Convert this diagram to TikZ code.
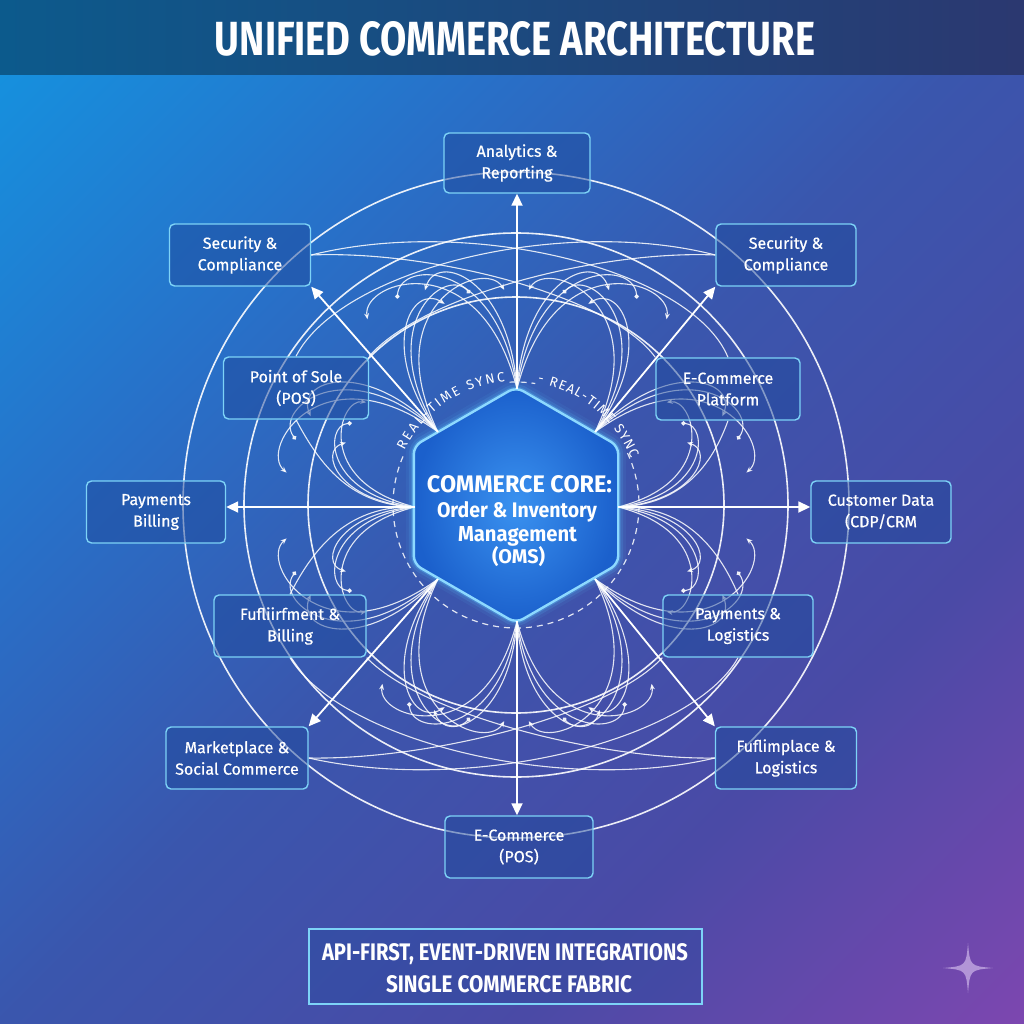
\documentclass[tikz,border=0pt]{standalone}
\usepackage{fontspec}
\setmainfont{Fira Sans}
\newfontfamily\boxfont{Fira Sans}[FakeBold=0.6]
\usepackage{graphicx}
\usetikzlibrary{arrows.meta,calc,decorations.text,shapes.geometric}
\pgfdeclarelayer{back}
\pgfdeclarelayer{lines}
\pgfsetlayers{back,lines,main}
\definecolor{bgTL}{HTML}{1592DF}
\definecolor{bgA}{HTML}{2870C8}
\definecolor{bgMid}{HTML}{3A56AD}
\definecolor{bgB}{HTML}{4A4AA6}
\definecolor{bgBR}{HTML}{7E47B0}
\definecolor{titleL}{HTML}{0C5A8C}
\definecolor{titleR}{HTML}{2B3870}
\definecolor{edge}{HTML}{7DD3F7}
\definecolor{boxfill}{HTML}{1F4A9C}
\definecolor{hexin}{HTML}{3A92F0}
\definecolor{hexout}{HTML}{1B60CC}
\definecolor{glow}{HTML}{5CC8FF}
\definecolor{starcol}{HTML}{C8B0E6}
\pgfdeclarehorizontalshading{bgshade}{100bp}{color(0bp)=(bgTL); color(16bp)=(bgTL); color(34bp)=(bgA); color(50bp)=(bgMid); color(68bp)=(bgB); color(86bp)=(bgBR); color(100bp)=(bgBR)}
\newcommand\syncfont{\fontsize{13.5}{14}\selectfont\color{white}}
\tikzset{
 box/.style={draw=edge, line width=1.4pt, rounded corners=5pt, fill=boxfill, fill opacity=0.5, text opacity=1, text=white, align=center, font=\boxfont\fontsize{16}{21.5}\selectfont, inner sep=0pt, minimum height=62pt},
 ring/.style={draw=white, line width=1.6pt, opacity=0.9},
 dashedring/.style={draw=white, line width=1.2pt, opacity=0.85, dash pattern=on 6pt off 5pt},
 fl/.style={draw=white, line width=1.1pt, opacity=0.85},
 spoke/.style={draw=white, line width=1.8pt, -{Triangle[length=12pt,width=11pt]}},
 tipA/.style={-{Stealth[length=6pt,width=5pt]}},
 tipD/.style={-{Circle[length=4.5pt]}},
 hexshape/.style={regular polygon, regular polygon sides=6, shape border rotate=90, minimum size=236pt, inner sep=0pt, rounded corners=8pt},
 label/.style={text=white, inner sep=0pt, anchor=base},
}
\newcommand\fanlines[3]{%
 \foreach \s in {-1,1}{%
  \pgfmathsetmacro\ra{110*#3}\pgfmathsetmacro\rb{160*#3}\pgfmathsetmacro\rc{135*#3}%
  \pgfmathsetmacro\rd{130*#3}\pgfmathsetmacro\re{175*#3}\pgfmathsetmacro\rf{150*#3}%
  \pgfmathsetmacro\rg{150*#3}\pgfmathsetmacro\rh{190*#3}\pgfmathsetmacro\ri{165*#3}%
  \draw[fl,tipA] (#1) .. controls ($(#1)+(#2+\s*4:\ra)$) and ($(#1)+(#2+\s*30:\rb)$) .. ($(#1)+(#2+\s*43:\rc)$);
  \draw[fl,tipD] (#1) .. controls ($(#1)+(#2+\s*8:\rd)$) and ($(#1)+(#2+\s*42:\re)$) .. ($(#1)+(#2+\s*53:\rf)$);
  \draw[fl,tipA] (#1) .. controls ($(#1)+(#2+\s*14:\rg)$) and ($(#1)+(#2+\s*55:\rh)$) .. ($(#1)+(#2+\s*65:\ri)$);
 }}
\begin{document}
\begin{tikzpicture}[x=1pt,y=-1pt]
\useasboundingbox (0,0) rectangle (1024,1024);
\begin{pgfonlayer}{back}
 \shade[shading=bgshade, shading angle=-45] (0,0) rectangle (1024,1024);
 \shade[left color=titleL, right color=titleR] (0,0) rectangle (1024,75);
\end{pgfonlayer}
% title
\node[label] (title) at (515,56) {\resizebox{600pt}{34pt}{\bfseries UNIFIED COMMERCE ARCHITECTURE}};
% core hexagon
\coordinate (c) at (516,505);
\node[hexshape, draw=glow, line width=16pt, draw opacity=0.07] (g1) at (c) {};
\node[hexshape, draw=glow, line width=10pt, draw opacity=0.14] (g2) at (c) {};
\node[hexshape, draw=glow, line width=5pt, draw opacity=0.3] (g3) at (c) {};
\node[hexshape, draw=glow!70!white, line width=2.4pt, inner color=hexin, outer color=hexout] (core) at (c) {};
\node[label] (h1) at (519.5,492) {\resizebox{185pt}{17pt}{\bfseries COMMERCE CORE:}};
\node[label] (h2) at (517,517) {\resizebox{160pt}{16pt}{\bfseries Order \& Inventory}};
\node[label] (h3) at (517.5,541) {\resizebox{119pt}{15pt}{\bfseries Management}};
\node[label] (h4) at (518.5,563) {\resizebox{53pt}{!}{\bfseries (OMS)}};
% boxes
\node[box, minimum width=146pt, minimum height=60pt] (analytics) at (517,163) {Analytics \&\\Reporting};
\node[box, minimum width=141pt] (secL) at (240,255) {Security \&\\Compliance};
\node[box, minimum width=140pt] (secR) at (786,255) {Security \&\\Compliance};
\node[box, minimum width=145pt] (pos) at (296,388) {Point of Sole\\(POS)};
\node[box, minimum width=144pt] (ecp) at (728,389) {E-Commerce\\Platform};
\node[box, minimum width=139pt] (paybill) at (156,512) {Payments\\Billing};
\node[box, minimum width=140pt] (cdp) at (881,512) {Customer Data\\(CDP/CRM};
\node[box, minimum width=152pt] (fulfil) at (290,626) {Fufliirfment \&\\Billing};
\node[box, minimum width=150pt] (pl) at (738,626) {Payments \&\\Logistics};
\node[box, minimum width=142pt] (market) at (237,758) {Marketplace \&\\Social Commerce};
\node[box, minimum width=141pt] (fuflimp) at (786,758) {Fuflimplace \&\\Logistics};
\node[box, minimum width=148pt] (ecpos) at (519,847) {E-Commerce\\(POS)};
% banner
\node[draw=edge, line width=1.5pt, fill=boxfill, fill opacity=0.3, minimum width=393pt, minimum height=75pt, inner sep=0pt] (banner) at (505.5,966.5) {};
\node[label] (ban1) at (505,960) {\resizebox{366pt}{17pt}{\bfseries API-FIRST, EVENT-DRIVEN INTEGRATIONS}};
\node[label] (ban2) at (509,992) {\resizebox{246pt}{17pt}{\bfseries SINGLE COMMERCE FABRIC}};
% fan points
\coordinate (fT) at (517,389);
\coordinate (fB) at (517,621);
\coordinate (fL) at (415,507);
\coordinate (fR) at (618,507);
\coordinate (fUL) at (438,432);
\coordinate (fUR) at (595,432);
\coordinate (fLL) at (438,579);
\coordinate (fLR) at (595,579);
\begin{pgfonlayer}{lines}
 \draw[ring] (c) circle[radius=333];
 \draw[ring] (c) circle[radius=272];
 \draw[ring] (c) circle[radius=208];
 % crossing arcs
 \draw[fl] (secL.east) .. controls (430,250) and (610,295) .. (ecp.north west);
 \draw[fl] (secR.west) .. controls (602,250) and (422,295) .. (pos.north east);
 \draw[fl] (pos.north) .. controls (340,270) and (560,215) .. (secR.west);
 \draw[fl] (ecp.north) .. controls (692,270) and (472,215) .. (secL.east);
 \draw[fl] (market.east) .. controls (430,760) and (610,715) .. (pl.south west);
 \draw[fl] (fuflimp.west) .. controls (602,760) and (422,715) .. (fulfil.south east);
 \draw[fl] (fulfil.south) .. controls (340,740) and (560,795) .. (fuflimp.west);
 \draw[fl] (pl.south) .. controls (692,740) and (472,795) .. (market.east);
 % side sweeps
 \draw[fl] (fL) .. controls (350,505) and (315,545) .. (fulfil.north);
 \draw[fl] (fL) .. controls (350,505) and (320,465) .. (pos.south);
 \draw[fl] (fR) .. controls (682,505) and (717,545) .. (pl.north);
 \draw[fl] (fR) .. controls (682,505) and (712,465) .. (ecp.south);
 % field line fans
 \fanlines{fT}{-90}{1}
 \fanlines{fB}{90}{0.9}
 \fanlines{fUL}{-130}{0.95}
 \fanlines{fUR}{-50}{0.95}
 \fanlines{fLL}{130}{0.95}
 \fanlines{fLR}{50}{0.95}
 \fanlines{fL}{180}{0.7}
 \fanlines{fR}{0}{0.7}
 % dashed sync ring
 \draw[dashedring] (c) ++(-25:123) arc[start angle=-25, end angle=205, radius=123];
 \draw[dashedring] (c) ++(267:123) arc[start angle=267, end angle=279, radius=123];
 \path[decorate, decoration={text along path, text={|\syncfont|REAL-TIME SYNC}, text align=fit to path}] (c) ++(206:124) arc[start angle=206, end angle=265, radius=124];
 \path[decorate, decoration={text along path, text={|\syncfont|- REAL-TIME SYNC}, text align=fit to path}] (c) ++(280:124) arc[start angle=280, end angle=338, radius=124];
\end{pgfonlayer}
% spokes
\draw[spoke] (fT) -- (fT |- analytics.south);
\draw[spoke] (fB) -- (fB |- ecpos.north);
\draw[spoke] (fL) -- (fL -| paybill.east);
\draw[spoke] (fR) -- (fR -| cdp.west);
\draw[spoke] (fUL) -- (secL.south east);
\draw[spoke] (fUR) -- (secR.south west);
\draw[spoke] (fLL) -- (market.north east);
\draw[spoke] (fLR) -- (fuflimp.north west);
% sparkle
\fill[starcol, opacity=0.75] (968,943) .. controls (970,966) .. (993,968) .. controls (970,970) .. (968,993) .. controls (966,970) .. (943,968) .. controls (966,966) .. (968,943) -- cycle;
\end{tikzpicture}
\end{document}
